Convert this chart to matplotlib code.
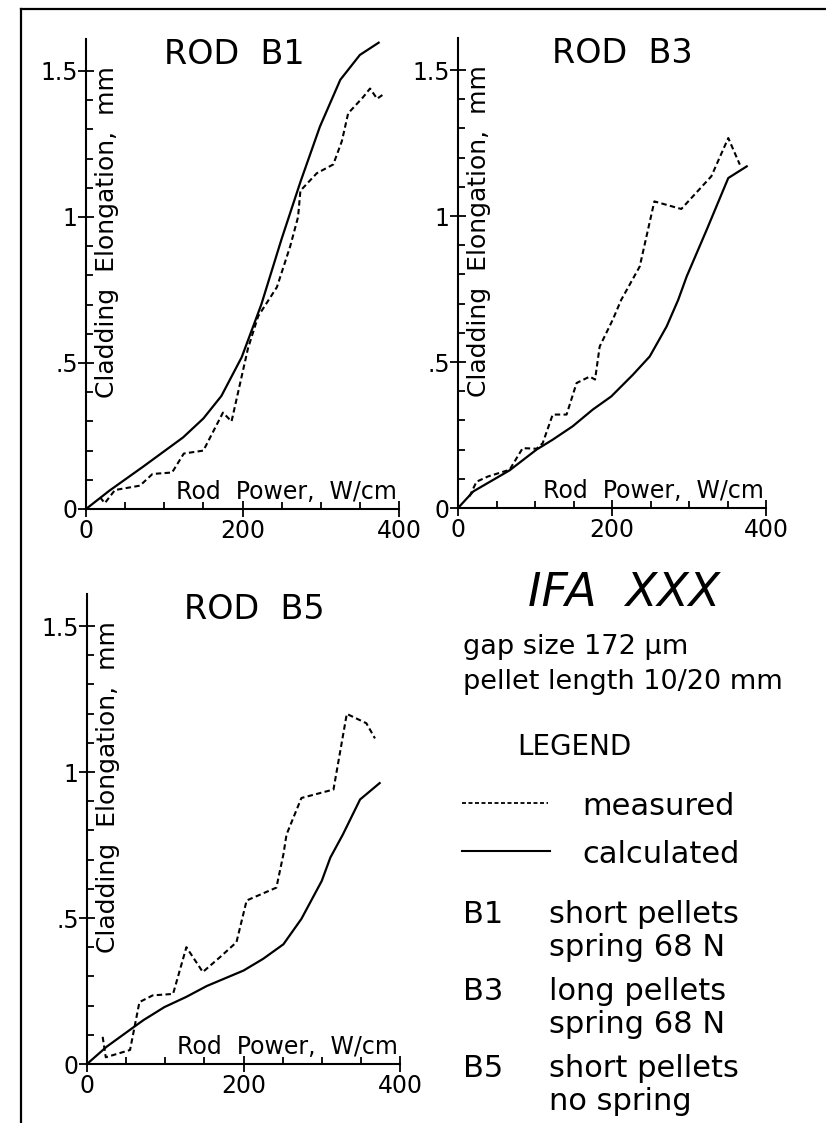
import matplotlib.pyplot as plt
from matplotlib.lines import Line2D
from matplotlib.ticker import FixedLocator, FixedFormatter

W, H = 826, 1123

# Rod power (W/cm) vs cladding elongation (mm)
b1_meas_x = [18, 24, 37, 69, 85, 110, 125, 150, 175, 186, 207, 220, 244, 261, 271, 274, 295, 316, 327, 335, 354, 363, 372, 380]
b1_meas_y = [0.04, 0.02, 0.065, 0.08, 0.12, 0.125, 0.19, 0.2, 0.33, 0.30, 0.55, 0.66, 0.76, 0.9, 1.0, 1.09, 1.15, 1.18, 1.26, 1.355, 1.41, 1.44, 1.405, 1.42]
b1_calc_x = [0, 30, 73, 99, 124, 150, 173, 199, 224, 250, 274, 299, 325, 350, 374]
b1_calc_y = [0, 0.063, 0.145, 0.196, 0.245, 0.31, 0.387, 0.52, 0.70, 0.925, 1.12, 1.31, 1.47, 1.555, 1.597]

b3_meas_x = [15, 24, 39, 67, 84, 102, 110, 123, 141, 154, 171, 178, 184, 201, 212, 236, 255, 290, 329, 351, 366]
b3_meas_y = [0.04, 0.09, 0.108, 0.131, 0.205, 0.203, 0.222, 0.32, 0.32, 0.428, 0.45, 0.44, 0.553, 0.645, 0.713, 0.827, 1.05, 1.024, 1.136, 1.267, 1.176]
b3_calc_x = [0, 20, 67, 102, 123, 149, 175, 199, 227, 249, 271, 286, 297, 323, 351, 375]
b3_calc_y = [0, 0.057, 0.129, 0.2, 0.234, 0.28, 0.337, 0.382, 0.456, 0.519, 0.622, 0.713, 0.793, 0.953, 1.13, 1.17]

b5_meas_x = [20, 24, 55, 67, 84, 110, 127, 148, 170, 191, 204, 242, 251, 255, 274, 315, 332, 357, 368]
b5_meas_y = [0.093, 0.023, 0.048, 0.212, 0.235, 0.24, 0.40, 0.315, 0.366, 0.417, 0.56, 0.604, 0.718, 0.786, 0.911, 0.94, 1.199, 1.167, 1.115]
b5_calc_x = [0, 25, 59, 72, 99, 127, 153, 200, 225, 251, 274, 300, 311, 327, 349, 374]
b5_calc_y = [0, 0.059, 0.125, 0.15, 0.195, 0.23, 0.267, 0.32, 0.36, 0.41, 0.497, 0.627, 0.707, 0.786, 0.906, 0.962]

x_major = [0, 200, 400]
x_major_labels = ['0', '200', '400']
x_minor = [50, 100, 150, 250, 300, 350]
y_major = [0, 0.5, 1.0, 1.5]
y_major_labels = ['0', '.5', '1', '1.5']
y_minor = [0.1, 0.2, 0.3, 0.4, 0.6, 0.7, 0.8, 0.9, 1.1, 1.2, 1.3, 1.4]

plt.rcParams['font.family'] = ['DejaVu Sans']

fig = plt.figure(figsize=(W / 100, H / 100), dpi=100)

Y_TOP = 1.61
PX_PER_MM = 292


def rod_axes(left, zero, width, title, title_x, mx, my, cx, cy):
    # left/zero/width in pixels of the page
    ax = fig.add_axes([left / W, (H - zero) / H, width / W, Y_TOP * PX_PER_MM / H])
    ax.set_xlim(0, 400)
    ax.set_ylim(0, Y_TOP)
    ax.patch.set_visible(False)
    for s in ['top', 'right']:
        ax.spines[s].set_visible(False)
    ax.spines['left'].set_bounds(0, Y_TOP)
    ax.spines['bottom'].set_bounds(0, 400)
    for s in ['left', 'bottom']:
        ax.spines[s].set_linewidth(1.5)

    ax.xaxis.set_major_locator(FixedLocator(x_major))
    ax.xaxis.set_major_formatter(FixedFormatter(x_major_labels))
    ax.xaxis.set_minor_locator(FixedLocator(x_minor))
    ax.yaxis.set_major_locator(FixedLocator(y_major))
    ax.yaxis.set_major_formatter(FixedFormatter(y_major_labels))
    ax.yaxis.set_minor_locator(FixedLocator(y_minor))
    ax.tick_params(which='major', direction='inout', length=12, width=1.3, labelsize=17)
    ax.tick_params(axis='x', which='major', pad=1)
    ax.tick_params(axis='y', which='major', pad=0)
    ax.tick_params(which='minor', direction='in', length=5, width=1.3)

    ax.plot(mx, my, color='black', lw=1.5, ls=(0, (2.6, 1.6)), clip_on=False)
    ax.plot(cx, cy, color='black', lw=1.6, clip_on=False)

    ax.text(title_x, 1.555, title, fontsize=24, ha='center', va='center')
    ax.text(12, 0.95, 'Cladding  Elongation,  mm', rotation=90, fontsize=18,
            ha='left', va='center')
    ax.text(397, 0.034, 'Rod  Power,  W/cm', fontsize=17, ha='right', va='baseline')
    return ax


rod_axes(86, 509, 313, 'ROD  B1', 189, b1_meas_x, b1_meas_y, b1_calc_x, b1_calc_y)
rod_axes(458, 508, 308, 'ROD  B3', 214, b3_meas_x, b3_meas_y, b3_calc_x, b3_calc_y)
rod_axes(87, 1064, 313, 'ROD  B5', 214, b5_meas_x, b5_meas_y, b5_calc_x, b5_calc_y)


def fx(x):
    return x / W


def fy(y):
    return 1 - y / H


# page frame (only top and left edges are visible in the scan)
fig.add_artist(Line2D([fx(21), fx(826)], [fy(9), fy(9)], color='black', lw=1.6))
fig.add_artist(Line2D([fx(21), fx(21)], [fy(9), fy(1123)], color='black', lw=1.6))

# right hand panel
fig.text(fx(624), fy(594), 'IFA  XXX', fontsize=33, style='italic', ha='center', va='center')
fig.text(fx(463), fy(654), 'gap size 172 \u03bcm', fontsize=19.5, va='baseline')
fig.text(fx(463), fy(689), 'pellet length 10/20 mm', fontsize=19.5, va='baseline')
fig.text(fx(517), fy(755), 'LEGEND', fontsize=20, va='baseline')

fig.add_artist(Line2D([fx(462), fx(548)], [fy(803), fy(803)], color='black', lw=1.3,
                      ls=(0, (2.2, 1.4))))
fig.text(fx(582), fy(815), 'measured', fontsize=22, va='baseline')
fig.add_artist(Line2D([fx(462), fx(550)], [fy(851), fy(851)], color='black', lw=1.5))
fig.text(fx(582), fy(863), 'calculated', fontsize=22, va='baseline')

rods = ['B1', 'B3', 'B5']
rod_desc = [['short pellets', 'spring 68 N'],
            ['long pellets', 'spring 68 N'],
            ['short pellets', 'no spring']]
base = [923, 1000, 1077]
for r, d, b in zip(rods, rod_desc, base):
    fig.text(fx(463), fy(b), r, fontsize=22, va='baseline')
    fig.text(fx(549), fy(b), d[0], fontsize=22, va='baseline')
    fig.text(fx(549), fy(b + 33), d[1], fontsize=22, va='baseline')

fig.savefig('out.png', dpi=100)
